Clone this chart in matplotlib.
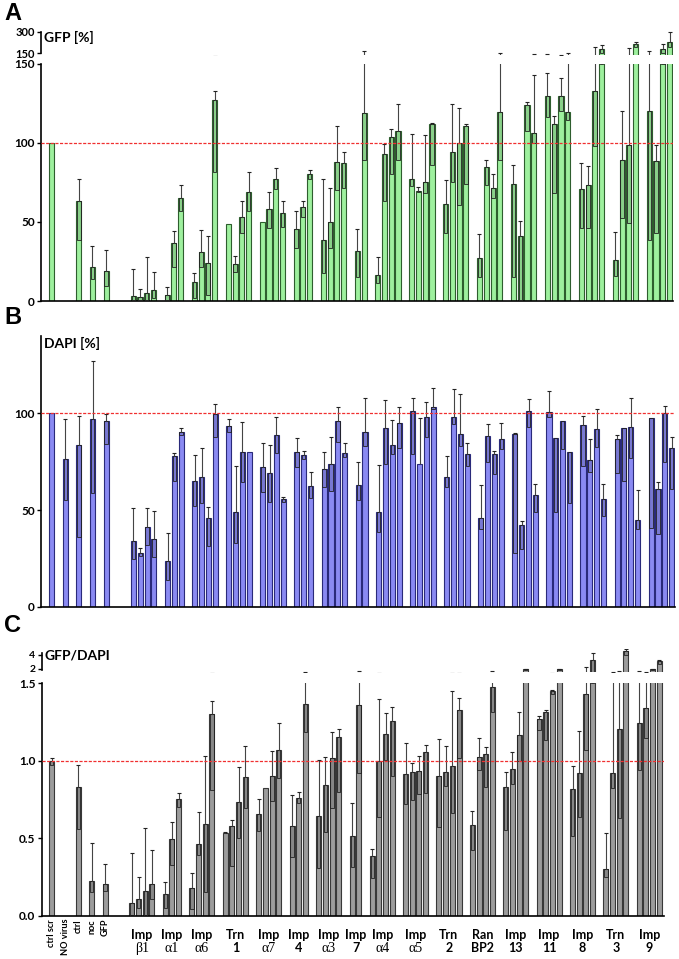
import numpy as np
import matplotlib
matplotlib.use('Agg')
import matplotlib.pyplot as plt

plt.rcParams['font.family'] = ['Lato', 'DejaVu Sans']
plt.rcParams['font.weight'] = 'bold'

nan = np.nan

ctrl_names = ['ctrl scr', 'NO virus', 'ctrl', 'noc', 'GFP']
group_top = ['Imp', 'Imp', 'Imp', 'Trn', 'Imp', 'Imp', 'Imp', 'Imp', 'Imp',
             'Imp', 'Trn', 'Ran', 'Imp', 'Imp', 'Imp', 'Trn', 'Imp']
group_bottom = ['β1', 'α1', 'α6', '1', 'α7', '4', 'α3', '7', 'α4',
                'α5', '2', 'BP2', '13', '11', '8', '3', '9']
group_sizes = [4, 3, 4, 4, 4, 3, 4, 2, 4, 4, 4, 4, 4, 4, 4, 4, 4]

# panel A: GFP [%]  (mean, lower end of error, upper end of error)
gfp_mean = [100, nan, 63.4, 21.4, 19.0,
            3.2, 2.5, 4.9, 7.0,  3.6, 37.0, 65.1,  12.0, 31.1, 23.9, 127.5,
            48.8, 23.3, 53.0, 68.9,  49.9, 58.1, 77.2, 55.6,  45.5, 59.2, 80.1,
            38.7, 50.3, 87.7, 87.3,  31.9, 119.0,  16.3, 93.0, 103.6, 107.4,
            77.2, 69.8, 75.3, 112.0,  61.3, 94.3, 100.0, 110.6,  27.3, 84.8, 71.5, 119.5,
            74.0, 41.2, 124.3, 106.3,  129.6, 112.0, 130.0, 119.5,  70.8, 73.6, 133.2, 180.0,
            26.0, 89.2, 98.7, 212.0,  120.3, 88.6, 178.0, 230.0]
gfp_low = [100, nan, 38.7, 13.7, 9.7,
           0.6, 0.6, 0.5, 1.7,  0.5, 21.4, 56.7,  2.1, 21.8, 3.8, 81.6,
           48.8, 18.2, 42.9, 56.7,  49.9, 46.5, 70.8, 47.1,  33.4, 53.0, 77.2,
           17.5, 33.4, 70.4, 71.5,  15.4, 89.0,  11.2, 63.6, 80.3, 89.0,
           72.5, 68.7, 68.3, 86.3,  42.9, 75.3, 60.5, 74.0,  15.4, 73.6, 65.1, 89.0,
           15.4, 0.5, 107.8, 100.0,  116.5, 68.3, 120.1, 114.4,  46.5, 46.1, 98.3, 150.0,
           15.9, 52.4, 49.3, 192.0,  38.7, 42.9, 150.0, 192.0]
gfp_high = [100, nan, 77.4, 34.9, 32.3,
            20.3, 7.4, 27.7, 18.2,  9.1, 44.4, 73.2,  17.5, 45.0, 41.4, 133.2,
            48.8, 28.5, 63.2, 81.6,  49.9, 69.3, 84.4, 63.6,  56.9, 63.4, 82.7,
            77.4, 71.5, 111.0, 94.3,  45.5, 166.0,  28.1, 99.6, 108.9, 124.7,
            105.7, 72.0, 105.3, 112.7,  76.7, 124.7, 122.2, 112.0,  42.3, 89.4, 80.5, 155.0,
            85.8, 50.7, 125.8, 143.3,  144.4, 116.9, 141.2, 155.0,  87.3, 85.2, 192.0, 207.0,
            43.6, 120.5, 185.0, 230.0,  168.0, 98.7, 212.0, 300.0]

# panel B: DAPI [%]
dapi_mean = [100, 76.2, 83.6, 97.0, 96.0,
             33.8, 27.6, 41.4, 35.0,  23.8, 77.9, 90.2,  65.2, 66.9, 45.7, 99.7,
             93.6, 48.8, 80.2, 80.0,  72.1, 69.0, 88.8, 55.5,  79.8, 78.4, 62.6,
             71.2, 73.8, 96.0, 79.3,  62.9, 90.2,  48.8, 92.2, 83.6, 94.8,
             101.2, 73.6, 98.3, 103.4,  67.2, 97.9, 89.1, 78.8,  45.7, 88.4, 78.8, 86.6,
             89.3, 42.2, 101.4, 57.8,  100.9, 87.4, 96.0, 79.8,  94.0, 75.7, 91.9, 55.5,
             86.6, 92.6, 92.8, 44.8,  97.8, 60.7, 100.0, 81.9]
dapi_low = [100, 55.2, 35.9, 59.0, 84.1,
            24.5, 26.2, 31.9, 25.9,  13.8, 65.2, 88.8,  52.2, 53.4, 31.6, 87.6,
            90.5, 32.8, 64.7, 80.0,  59.5, 54.3, 79.3, 54.3,  72.4, 76.2, 56.0,
            62.1, 60.0, 85.3, 77.6,  55.2, 83.1,  38.8, 73.6, 79.0, 81.9,
            78.8, 73.6, 87.9, 102.1,  61.7, 94.5, 83.3, 72.9,  40.2, 74.7, 68.6, 81.4,
            27.6, 29.7, 92.8, 48.8,  98.3, 48.8, 81.4, 53.4,  72.9, 69.8, 82.8, 47.1,
            69.3, 65.2, 77.1, 40.2,  40.9, 37.4, 75.0, 60.7]
dapi_high = [100, 97.0, 98.6, 127.0, 99.7,
             50.9, 30.2, 50.9, 49.5,  38.3, 79.3, 92.2,  78.4, 82.2, 51.4, 104.7,
             97.0, 72.8, 95.3, 80.0,  84.5, 83.6, 98.3, 56.6,  87.1, 80.5, 69.5,
             79.8, 87.9, 103.1, 84.8,  75.0, 107.8,  73.3, 106.9, 96.6, 103.4,
             108.1, 97.4, 106.0, 112.9,  77.9, 112.4, 109.8, 84.8,  62.9, 94.5, 80.5, 94.8,
             89.7, 44.3, 107.2, 63.4,  111.7, 87.4, 96.0, 79.8,  98.8, 86.7, 102.1, 63.4,
             88.8, 92.6, 108.1, 60.3,  97.8, 64.7, 104.0, 87.6]

# panel C: GFP/DAPI
ratio_mean = [1.0, nan, 0.832, 0.224, 0.204,
              0.08, 0.11, 0.159, 0.202,  0.14, 0.492, 0.753,  0.181, 0.46, 0.589, 1.301,
              0.535, 0.578, 0.731, 0.897,  0.654, 0.822, 0.901, 1.069,  0.578, 0.757, 1.363,
              0.64, 0.843, 1.015, 1.155,  0.514, 1.355,  0.385, 0.994, 1.172, 1.256,
              0.914, 0.925, 0.933, 1.054,  0.903, 0.925, 0.966, 1.327,  0.585, 1.022, 1.043, 1.473,
              0.832, 0.944, 1.166, 1.97,  1.267, 1.312, 1.449, 1.97,  0.815, 0.918, 1.428, 3.29,
              0.299, 0.923, 1.204, 4.57,  1.245, 1.338, 1.97, 3.14]
ratio_low = [0.972, nan, 0.557, 0.155, 0.161,
             0.0, 0.047, 0.0, 0.105,  0.052, 0.327, 0.703,  0.041, 0.391, 0.15, 0.811,
             0.532, 0.32, 0.503, 0.697,  0.548, 0.822, 0.74, 0.886,  0.381, 0.729, 1.181,
             0.305, 0.542, 0.697, 0.8,  0.316, 0.918,  0.241, 0.639, 1.004, 0.903,
             0.72, 0.746, 0.783, 0.794,  0.57, 0.839, 0.66, 1.015,  0.424, 0.94, 0.832, 1.31,
             0.553, 0.85, 0.998, 1.9,  1.194, 1.133, 1.43, 1.9,  0.514, 0.639, 1.069, 1.5,
             0.252, 0.822, 0.628, 4.0,  0.94, 1.148, 1.9, 2.67]
ratio_high = [1.015, nan, 0.97, 0.467, 0.333,
              0.402, 0.252, 0.563, 0.424,  0.217, 0.604, 0.794,  0.273, 0.671, 1.032, 1.385,
              0.538, 0.617, 0.957, 1.095,  0.751, 0.822, 1.062, 1.245,  0.778, 0.8, 1.62,
              1.004, 1.026, 1.181, 1.204,  0.725, 1.7,  0.428, 1.396, 1.305, 1.348,
              1.116, 0.983, 1.032, 1.101,  1.138, 1.095, 1.449, 1.402,  0.675, 1.144, 1.086, 1.65,
              0.929, 1.052, 1.316, 2.03,  1.288, 1.327, 1.456, 2.03,  0.966, 1.191, 2.24, 4.24,
              0.531, 1.62, 1.7, 4.8,  1.75, 1.62, 2.03, 3.3]

# bar slot positions: controls every 2 slots, groups separated by one empty slot
xpos = [0, 2, 4, 6, 8]
group_centers = []
start = 12
for n in group_sizes:
    xpos += list(range(start, start + n))
    group_centers.append(start + (n - 1) / 2)
    start += n + 1
xpos = np.array(xpos, dtype=float)

W, H = 679, 959
fig = plt.figure(figsize=(W / 100, H / 100), dpi=100)


def px_axes(x0, y0, x1, y1):
    return fig.add_axes([x0 / W, 1 - y1 / H, (x1 - x0) / W, (y1 - y0) / H])


def draw(ax, mean, low, high, fc, ec):
    m = np.array(mean, float)
    lo = np.array(low, float)
    hi = np.array(high, float)
    ok = ~np.isnan(m)
    ax.bar(xpos[ok], m[ok], width=0.75, color=fc, edgecolor=ec, linewidth=0.8, zorder=2)
    box = ok & (m - lo > 0)
    ax.bar(xpos[box], (m - lo)[box], bottom=lo[box], width=0.5,
           facecolor=(0, 0, 0, 0.13), edgecolor='#222222', linewidth=0.6, zorder=3)
    up = ok & (hi - m > 0)
    ax.vlines(xpos[up], m[up], hi[up], colors='#444444', linewidth=0.8, zorder=4)
    ax.plot(xpos[up], hi[up], ls='none', marker='_', ms=2.6, mew=0.8, color='#222', zorder=4)


def style(ax, xlim):
    ax.set_xlim(*xlim)
    for s in ['top', 'right']:
        ax.spines[s].set_visible(False)
    ax.spines['left'].set_linewidth(1.2)
    ax.spines['bottom'].set_linewidth(1.2)
    ax.tick_params(axis='y', length=3, width=1, labelsize=8.5, pad=1.5)
    ax.set_xticks([])
    ax.patch.set_alpha(0)


def upper_style(ax, bounds):
    ax.spines['bottom'].set_visible(False)
    ax.spines['left'].set_bounds(*bounds)


def ref_line(ax, y):
    ax.axhline(y, color='#f03030', lw=0.9, ls=(0, (2.5, 1.2)), zorder=5)


green_fc, green_ec = '#9ef09e', '#2e5e2e'
blue_fc, blue_ec = '#8a8af2', '#2a2a7a'
gray_fc, gray_ec = '#9c9c9c', '#383838'

# ---- A ----
xlA = (-1.58, 91.5)
axA_top = px_axes(41, 30.3, 673, 54.7)
axA = px_axes(41, 64, 673, 301)
for ax in (axA_top, axA):
    draw(ax, gfp_mean, gfp_low, gfp_high, green_fc, green_ec)
    style(ax, xlA)
axA.set_ylim(0, 150)
axA.set_yticks([0, 50, 100, 150])
ref_line(axA, 100)
axA_top.set_ylim(140, 310)
axA_top.set_yticks([150, 300])
axA_top.tick_params(axis='y', labelsize=8)
upper_style(axA_top, (150, 300))

# ---- B ----
axB = px_axes(41, 336, 675, 606.7)
draw(axB, dapi_mean, dapi_low, dapi_high, blue_fc, blue_ec)
style(axB, (-1.57, 91.5))
axB.set_ylim(0, 140)
axB.set_yticks([0, 50, 100])
ref_line(axB, 100)

# ---- C ----
xlC = (-1.5, 91.7)
axC_top = px_axes(41.7, 648.7, 664, 671.8)
axC = px_axes(41.7, 683, 664, 915.7)
for ax in (axC_top, axC):
    draw(ax, ratio_mean, ratio_low, ratio_high, gray_fc, gray_ec)
    style(ax, xlC)
axC.set_ylim(0, 1.5)
axC.set_yticks([0, 0.5, 1.0, 1.5])
axC.set_yticklabels(['0.0', '0.5', '1.0', '1.5'])
ref_line(axC, 1.0)
axC_top.set_ylim(1.6, 4.9)
axC_top.set_yticks([2, 4])
axC_top.tick_params(axis='y', labelsize=7.5)
upper_style(axC_top, (1.8, 4.3))

tr = axC.get_xaxis_transform()
for i, name in enumerate(ctrl_names):
    axC.text(xpos[i], -0.014, name, transform=tr, rotation=90, ha='center', va='top',
             fontsize=6.6, fontweight='bold')
for c, t, b in zip(group_centers, group_top, group_bottom):
    axC.text(c, -0.083, t, transform=tr, ha='center', va='center', fontsize=9, fontweight='bold')
    if b[0] in 'αβ':
        axC.text(c, -0.139, b, transform=tr, ha='center', va='center', fontsize=10,
                 family='Liberation Serif', fontweight='normal')
    else:
        axC.text(c, -0.139, b, transform=tr, ha='center', va='center', fontsize=9,
                 fontweight='bold')

# axis titles and panel letters
fig.text(44 / W, 1 - 37 / H, 'GFP [%]', fontsize=10, fontweight='bold', va='center', ha='left')
fig.text(44 / W, 1 - 343 / H, 'DAPI [%]', fontsize=10, fontweight='bold', va='center', ha='left')
fig.text(44 / W, 1 - 656 / H, 'GFP/DAPI', fontsize=10, fontweight='bold', va='center', ha='left')
for letter, y in [('A', 14), ('B', 318), ('C', 626)]:
    fig.text(4 / W, 1 - y / H, letter, fontsize=17, fontweight='bold', va='center', ha='left',
             family='Liberation Sans')

fig.savefig('out.png', dpi=100)
